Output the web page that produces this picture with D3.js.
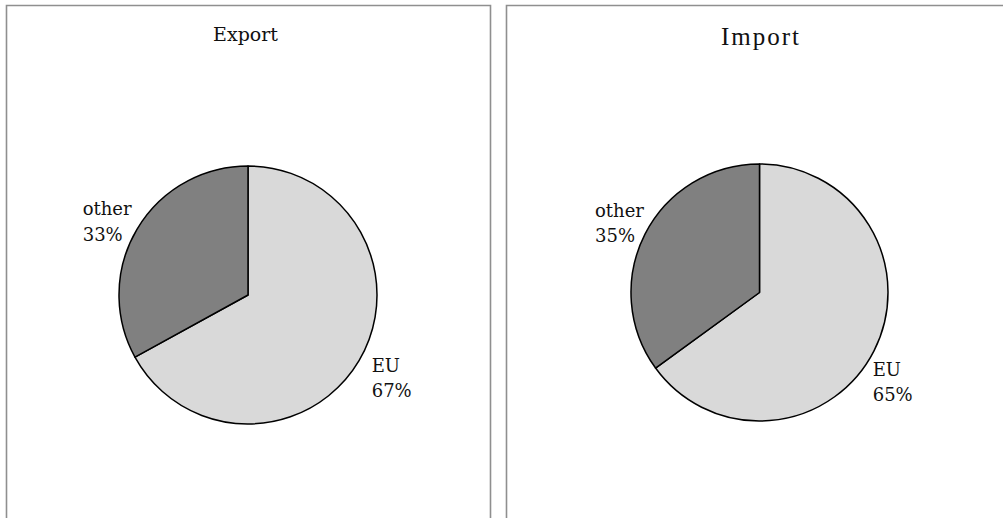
<!DOCTYPE html>
<html>
<head>
<meta charset="utf-8">
<script src="https://cdn.jsdelivr.net/npm/d3@7"></script>
<style>
  html, body { margin: 0; padding: 0; background: #fff; }
  svg { display: block; }
</style>
</head>
<body>
<svg id="chart" width="1003" height="518"></svg>
<script>
// Trade partner shares, by direction
const titles = ["Export", "Import"];
const categories = ["EU", "other"];
const exportShares = [67, 33];
const importShares = [65, 35];
const seriesValues = [exportShares, importShares];

const colors = { "EU": "#d9d9d9", "other": "#808080" };

// Panel geometry (frame, pie centre/radius, label offsets from the centre)
const panels = [
  { x0: 6.5, x1: 490.5, cx: 248, cy: 295, r: 129,
    title: { x: 245.5, y: 41, font: "DejaVu Serif", size: 19, spacing: 0 },
    labels: { "other": [-165.3, -80], "EU": [123.7, 76.7] } },
  { x0: 506.5, x1: 1010, cx: 759.5, cy: 292.5, r: 128.5,
    title: { x: 761, y: 45, font: "Liberation Serif", size: 25, spacing: 2 },
    labels: { "other": [-164.5, -76], "EU": [113.2, 83.2] } }
];
const frameTop = 5.5;
const lineGap = 25.5;

const svg = d3.select("#chart");

const pie = d3.pie()
  .sort(null)
  .value(d => d.value)
  .startAngle(0)
  .endAngle(2 * Math.PI);

panels.forEach((p, i) => {
  const g = svg.append("g");

  // open-bottomed frame
  g.append("path")
    .attr("d", `M${p.x0},530 V${frameTop} H${p.x1} V530`)
    .attr("fill", "none")
    .attr("stroke", "#8f8f8f")
    .attr("stroke-width", 1.6);

  g.append("text")
    .attr("x", p.title.x)
    .attr("y", p.title.y)
    .attr("text-anchor", "middle")
    .attr("font-family", p.title.font)
    .attr("font-size", p.title.size)
    .attr("letter-spacing", p.title.spacing)
    .attr("fill", "#111")
    .text(titles[i]);

  const data = categories.map((c, k) => ({ name: c, value: seriesValues[i][k] }));
  const arcs = pie(data);
  const arc = d3.arc().innerRadius(0).outerRadius(p.r);

  const pg = g.append("g").attr("transform", `translate(${p.cx},${p.cy})`);

  pg.selectAll("path.slice")
    .data(arcs)
    .join("path")
    .attr("class", "slice")
    .attr("d", arc)
    .attr("fill", d => colors[d.data.name])
    .attr("stroke", "#000")
    .attr("stroke-width", 1.5)
    .attr("stroke-linejoin", "round");

  const lab = pg.selectAll("text.lbl")
    .data(arcs)
    .join("text")
    .attr("class", "lbl")
    .attr("font-family", "DejaVu Serif")
    .attr("font-size", 18)
    .attr("fill", "#111")
    .attr("transform", d => {
      const o = p.labels[d.data.name];
      return `translate(${o[0]},${o[1]})`;
    });

  lab.append("tspan")
    .attr("x", 0).attr("y", 0)
    .text(d => d.data.name);
  lab.append("tspan")
    .attr("x", 0).attr("y", lineGap)
    .text(d => d.data.value + "%");
});
</script>
</body>
</html>
